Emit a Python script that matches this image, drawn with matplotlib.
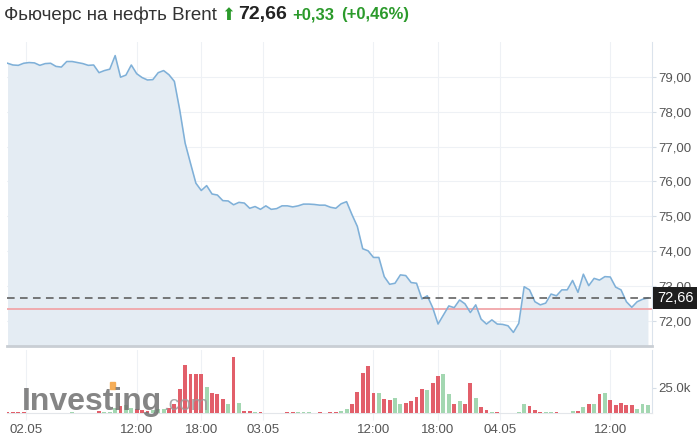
import numpy as np
import matplotlib
matplotlib.use("Agg")
import matplotlib.pyplot as plt
import matplotlib.transforms as mtransforms
from matplotlib.patches import Rectangle

plt.rcParams['font.family'] = ['Liberation Sans', 'DejaVu Sans']

# Brent futures, 30-minute slots from 02.05 to 04.05
prices = [
    79.39, 79.34, 79.33, 79.39, 79.41, 79.40, 79.33, 79.38, 79.39, 79.30,
    79.28, 79.44, 79.44, 79.41, 79.38, 79.33, 79.34, 79.12, 79.18, 79.22,
    79.61, 78.99, 79.05, 79.34, 79.09, 78.98, 78.91, 78.92, 79.12, 79.18,
    79.06, 78.87, 78.05, 77.10, 76.52, 75.95, 75.74, 75.88, 75.64, 75.61,
    75.45, 75.44, 75.33, 75.40, 75.38, 75.23, 75.28, 75.20, 75.30, 75.20,
    75.22, 75.30, 75.30, 75.27, 75.30, 75.35, 75.35, 75.34, 75.32, 75.32,
    75.26, 75.23, 75.36, 75.42, 75.05, 74.71, 74.07, 74.01, 73.82, 73.82,
    73.27, 73.05, 73.08, 73.32, 73.30, 73.10, 73.08, 72.63, 72.72, 72.38,
    71.91, 72.17, 72.43, 72.38, 72.60, 72.49, 72.24, 72.46, 72.05, 71.91,
    72.03, 71.91, 71.90, 71.86, 71.67, 71.93, 72.98, 72.89, 72.55, 72.46,
    72.51, 72.77, 72.72, 72.89, 72.89, 73.16, 72.82, 73.34, 73.01, 73.22,
    73.17, 73.27, 73.26, 72.97, 72.89, 72.55, 72.39, 72.55, 72.62, 72.66,
]

# volume in thousands, and direction of each bar (1 = up / green, 0 = down / red)
volume_k = [
    0.8, 0.8, 0.8, 0.5, 0, 0, 0, 0, 0, 0,
    0, 0, 0.8, 0, 0, 0, 0, 1.5, 0.8, 1.0,
    5, 7, 8, 5, 4, 2.5, 2, 3, 4, 4,
    5, 9, 24, 47, 38, 38, 38, 26, 20, 19,
    14, 9, 55, 10, 2, 2, 1, 1, 0, 0,
    0, 0, 0.8, 0.8, 0.8, 0.8, 0.8, 0, 0.8, 0,
    0.8, 0.8, 2, 4.4, 9, 21, 39, 46, 20, 20,
    14, 13, 15, 9, 10, 11.7, 16, 24, 23, 30,
    36, 38, 19, 9, 11.7, 9, 30, 15, 5.7, 3.4,
    0.7, 0.7, 0, 0, 0, 1.3, 9, 6.7, 3.4, 1.3,
    1.3, 1.3, 0.7, 0.4, 0.4, 2.4, 2.4, 5.7, 9, 9,
    19, 20, 13, 7.4, 10, 8, 8, 4.4, 9, 7.4,
]
bar_up = [
    0, 0, 0, 0, 0, 0, 0, 0, 0, 0,
    0, 0, 1, 0, 0, 0, 0, 0, 1, 1,
    1, 0, 1, 1, 0, 0, 0, 1, 1, 1,
    0, 0, 0, 0, 0, 0, 0, 1, 0, 0,
    0, 1, 0, 1, 0, 0, 1, 0, 0, 0,
    0, 0, 0, 0, 1, 1, 1, 0, 0, 0,
    0, 0, 1, 1, 0, 0, 0, 0, 0, 1,
    0, 0, 1, 1, 0, 0, 0, 0, 1, 0,
    0, 1, 1, 0, 1, 0, 0, 1, 0, 0,
    1, 0, 0, 0, 0, 1, 1, 0, 0, 0,
    1, 1, 0, 0, 1, 1, 0, 1, 0, 1,
    0, 1, 0, 0, 0, 0, 0, 1, 1, 1,
]

last_price = 72.66
prev_close = 72.33
price_ticks = [72, 73, 74, 75, 76, 77, 78, 79]
time_labels = ["02.05", "12:00", "18:00", "03.05", "12:00", "18:00", "04.05", "12:00"]
time_ticks = [3.5, 24, 36, 47.5, 68, 80, 91.5, 112]

line_col = '#7fb0d8'
fill_col = '#e4ecf3'
red = '#e25f6a'
green = '#a3d7b1'
label_col = '#555555'
up_green = '#2b9a2b'

fig = plt.figure(figsize=(7, 4.41), dpi=100)
ax = fig.add_axes([0.01, 0.2154, 0.921, 0.6894])
axv = fig.add_axes([0.01, 0.0635, 0.921, 0.1428], sharex=ax)

x = np.arange(len(prices))

# price panel
ax.fill_between(x, prices, 71.0, color=fill_col, lw=0, zorder=1)
ax.plot(x, prices, color=line_col, lw=1.15, zorder=3)
ax.axhline(prev_close, color='#f1a6a9', lw=1.3, zorder=2)
ax.axhline(last_price, color='#555555', lw=1.1, ls=(0, (5, 3.5)), zorder=4)

ax.set_xlim(-0.1, 119.7)
ax.set_ylim(71.28, 80.0)
ax.yaxis.tick_right()
ax.set_yticks(price_ticks)
ax.set_yticklabels([f"{p:.2f}".replace('.', ',') for p in price_ticks])
ax.set_xticks(time_ticks)
ax.tick_params(axis='y', length=3, color='#d5dde6', labelsize=9.5,
               labelcolor=label_col, pad=2)
ax.tick_params(axis='x', length=0, labelbottom=False)
ax.grid(color='#eef1f5', lw=0.8, zorder=0)
ax.set_axisbelow(True)
for s in ['top', 'left']:
    ax.spines[s].set_visible(False)
ax.spines['right'].set_color('#dbe3ec')
ax.spines['bottom'].set_color('#c9ced4')
ax.spines['bottom'].set_linewidth(2)

# current price marker on the right axis
trans = mtransforms.blended_transform_factory(ax.transAxes, ax.transData)
ax.text(1.008, last_price, f"{last_price:.2f}".replace('.', ','), transform=trans,
        ha='left', va='center', color='white', fontsize=10.5, zorder=10,
        bbox=dict(boxstyle='square,pad=0.28', fc='#1e1e1e', ec='none'),
        clip_on=False)

# volume panel
colors = [green if u else red for u in bar_up]
axv.bar(x, volume_k, width=0.72, color=colors, zorder=3)
axv.set_ylim(0, 62)
axv.yaxis.tick_right()
axv.set_yticks([25])
axv.set_yticklabels(["25.0k"])
axv.set_xticks(time_ticks)
axv.set_xticklabels(time_labels)
axv.tick_params(axis='y', length=3, color='#d5dde6', labelsize=9.5,
                labelcolor=label_col, pad=2)
axv.tick_params(axis='x', length=5, color='#eef1f5', labelsize=9.5,
                labelcolor=label_col, pad=3)
axv.grid(axis='x', color='#eef1f5', lw=0.8, zorder=0)
axv.set_axisbelow(True)
for s in ['top', 'left']:
    axv.spines[s].set_visible(False)
axv.spines['right'].set_color('#dbe3ec')
axv.spines['bottom'].set_color('#e3e6ea')

renderer = fig.canvas.get_renderer()

# watermark
wm_x, wm_y = 22, 410
wm = fig.text(wm_x / 700, 1 - wm_y / 441, "Investing", fontsize=23,
              fontweight='bold', color='#707070', alpha=0.85, va='baseline')
wm_w = wm.get_window_extent(renderer=renderer).width
fig.text((wm_x + wm_w + 1) / 700, 1 - wm_y / 441, ".com", fontsize=15,
         color='#9a9a9a', alpha=0.85, va='baseline')
# orange accent on top of the "t"
probe = fig.text(0, 0, "Inves", fontsize=23, fontweight='bold')
t_left = probe.get_window_extent(renderer=renderer).width
probe.remove()
fig.patches.append(Rectangle(((wm_x + t_left + 6) / 700, 1 - 389 / 441),
                             5 / 700, 7 / 441, transform=fig.transFigure,
                             color='#f5aa50', alpha=0.95, zorder=1))

# header
header = [
    ("Фьючерс на нефть Brent", '#333333', 'normal', 13.5, 4),
    ("\u2b06", up_green, 'normal', 12, 3),
    ("72,66", '#222222', 'bold', 14, 6),
    ("+0,33", up_green, 'bold', 12, 6),
    ("(+0,46%)", up_green, 'bold', 12, 0),
]
xpos = 4
for txt, col, wt, fs, gap in header:
    t = fig.text(xpos / 700, 1 - 15 / 441, txt, color=col, fontweight=wt,
                 fontsize=fs, va='center', ha='left')
    bb = t.get_window_extent(renderer=renderer)
    xpos += bb.width + gap

fig.savefig("out.png", dpi=100)
